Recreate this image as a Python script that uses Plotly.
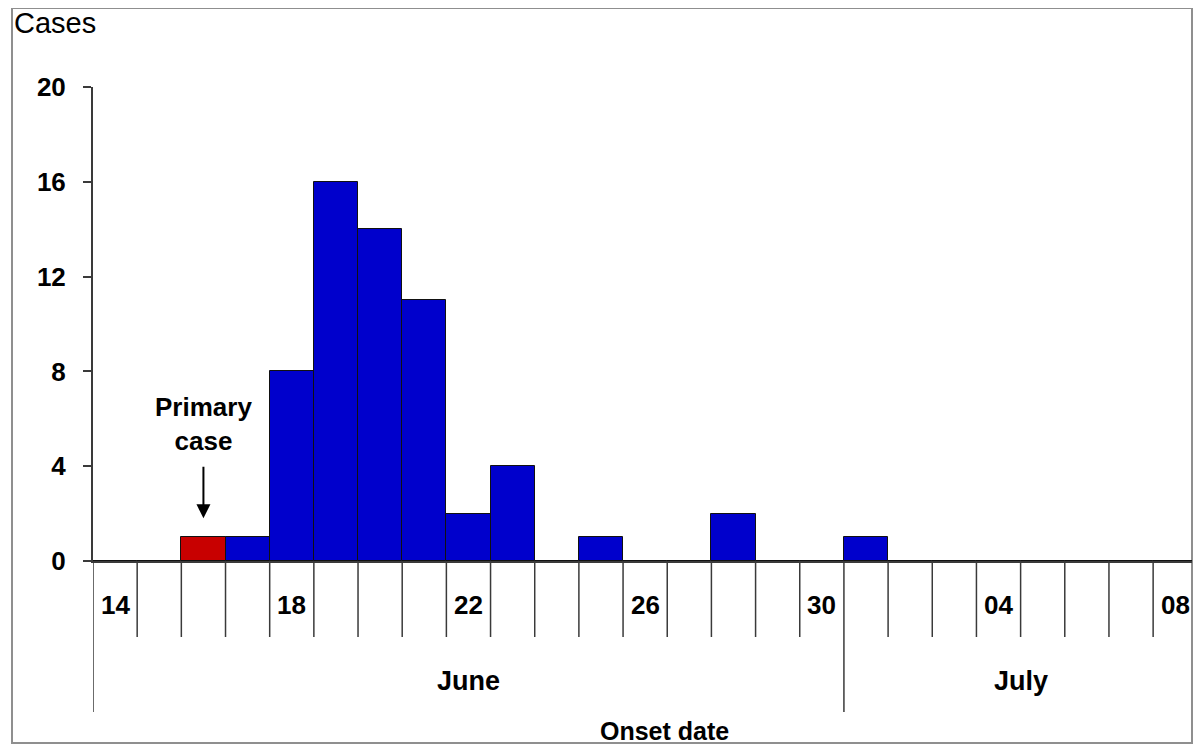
import plotly.graph_objects as go

# ---------------- data ----------------
day_labels = ["14", "15", "16", "17", "18", "19", "20", "21", "22", "23", "24", "25",
              "26", "27", "28", "29", "30", "01", "02", "03", "04", "05", "06", "07", "08"]
cases = [0, 0, 1, 1, 8, 16, 14, 11, 2, 4, 0, 1, 0, 0, 2, 0, 0, 1, 0, 0, 0, 0, 0, 0, 0]
primary_index = 2
label_every = 4
months = ["June", "July"]
month_start_index = [0, 17]
y_ticks = [0, 4, 8, 12, 16, 20]

# ---------------- layout geometry (reference pixels, page has 8px body margin) ----------------
OFF = 8
W, H = 1186, 738
L, R, T, B = 93 - OFF, 1192 - OFF, 87 - OFF, 561 - OFF   # plot area in figure pixels
PW, PH = R - L, B - T


def py(p):
    """reference pixel row -> paper y"""
    return (B - (p - OFF)) / PH


def px(p):
    """reference pixel column -> paper x"""
    return ((p - OFF) - L) / PW


n = len(day_labels)
xs = list(range(n))
colors = ["#C80000" if i == primary_index else "#0000CC" for i in range(n)]

fig = go.Figure()
fig.add_trace(go.Bar(
    x=xs, y=cases, width=1.0,
    marker=dict(color=colors, line=dict(color="#111111", width=1)),
    hoverinfo="skip",
))

font_family = "Liberation Sans, Arial, sans-serif"
line_col = "#3a3a3a"
shapes = []
annotations = []

month_bounds = [i - 0.5 for i in month_start_index]

# day boundary ticks below the axis (longer at month boundaries)
for i in range(n):
    xb = i - 0.5
    bottom = py(712) if xb in month_bounds else py(637)
    shapes.append(dict(type="line", xref="x", yref="paper", x0=xb, x1=xb, y0=0, y1=bottom,
                       line=dict(color=line_col, width=1.5), layer="above"))

# day labels (every 4th day)
for i, d in enumerate(day_labels):
    if i % label_every == 0:
        annotations.append(dict(x=i, y=py(605), xref="x", yref="paper", text=d, showarrow=False,
                                font=dict(size=26, color="#000", family=font_family, weight="bold"),
                                xanchor="center", yanchor="middle"))

# month labels
month_end_index = month_start_index[1:] + [n]
for m, s, e in zip(months, month_start_index, month_end_index):
    annotations.append(dict(x=(s + e - 1) / 2, y=py(681), xref="x", yref="paper", text=m,
                            showarrow=False,
                            font=dict(size=27, color="#000", family=font_family, weight="bold"),
                            xanchor="center", yanchor="middle"))

# x-axis title
annotations.append(dict(x=px(664), y=py(731), xref="paper", yref="paper", text="Onset date",
                        showarrow=False,
                        font=dict(size=25, color="#000", family=font_family, weight="bold"),
                        xanchor="center", yanchor="middle"))
# y title
annotations.append(dict(x=px(12), y=py(23), xref="paper", yref="paper", text="Cases",
                        showarrow=False, font=dict(size=29, color="#000", family=font_family),
                        xanchor="left", yanchor="middle"))
# primary case arrow + text
annotations.append(dict(x=primary_index, y=cases[primary_index], xref="x", yref="y", text="",
                        showarrow=True, arrowhead=2, arrowsize=1.4, arrowwidth=2, arrowcolor="#000",
                        ax=0, ay=-72, standoff=19))
annotations.append(dict(x=primary_index, y=py(424), xref="x", yref="paper",
                        text="<b>Primary<br>case</b>", showarrow=False,
                        font=dict(size=26, color="#000", family=font_family),
                        xanchor="center", yanchor="middle"))

# outer frame
shapes.append(dict(type="rect", xref="paper", yref="paper", x0=px(12), x1=px(1192),
                   y0=py(743), y1=py(8), line=dict(color="#8f8f8f", width=2), layer="below"))

fig.update_layout(
    width=W, height=H,
    margin=dict(l=L, r=W - R, t=T, b=H - B),
    paper_bgcolor="white", plot_bgcolor="white",
    showlegend=False, bargap=0,
    shapes=shapes, annotations=annotations,
    xaxis=dict(range=[-0.5, 24.38], showticklabels=False, ticks="", showgrid=False, zeroline=False,
               showline=True, linecolor=line_col, linewidth=2),
    yaxis=dict(range=[0, 20], tickvals=y_ticks, ticks="outside", ticklen=8, tickwidth=2,
               tickcolor=line_col, showgrid=False, zeroline=False, showline=True,
               linecolor=line_col, linewidth=2, ticklabelstandoff=12,
               tickfont=dict(size=26, color="#000", family=font_family, weight="bold")),
)

fig.write_html("out.html")
